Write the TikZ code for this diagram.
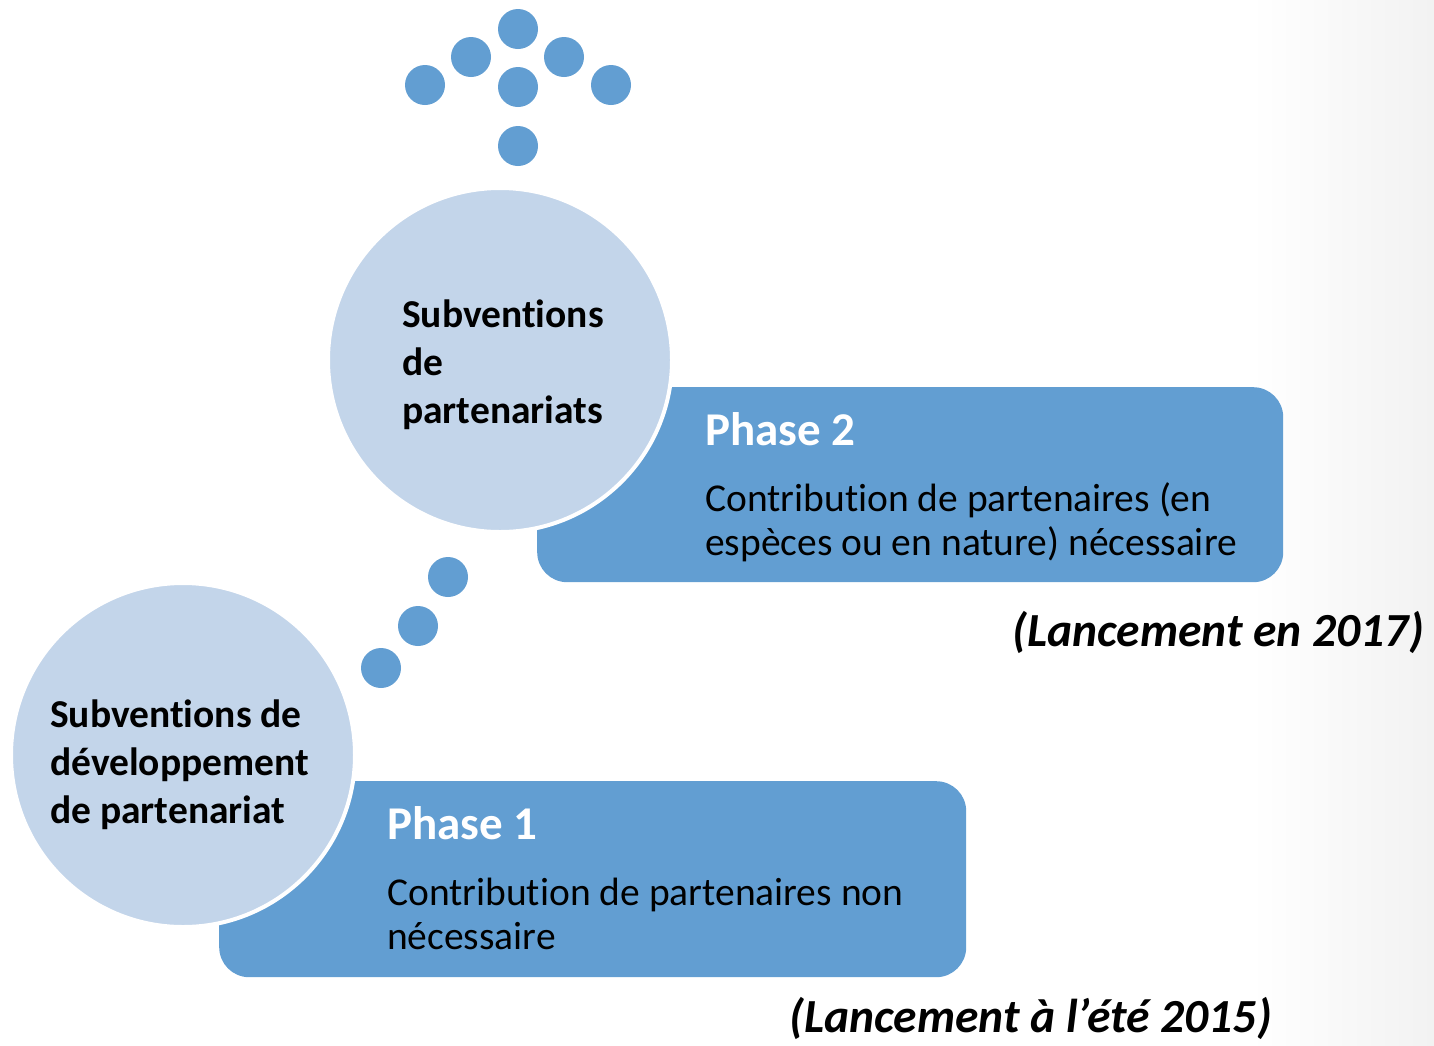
\documentclass[tikz,border=0pt]{standalone}
\usepackage{fontspec}
\setmainfont{Carlito}[Ligatures=CommonOff]
\definecolor{darkblue}{RGB}{98,158,210}
\definecolor{lightblue}{RGB}{195,213,234}
\definecolor{edgegray}{RGB}{242,242,242}
\begin{document}
\begin{tikzpicture}[x=1pt,y=-1pt,
  dot/.style={circle,fill=darkblue,minimum size=40pt,inner sep=0pt},
  phasebox/.style={rectangle,rounded corners=30pt,fill=darkblue,anchor=north west,inner sep=0pt},
  bigcircle/.style={circle,fill=lightblue,draw=white,line width=4pt,minimum size=344pt,inner sep=0pt},
  circtext/.style={anchor=base west,align=left,font=\fontsize{39.5}{48}\selectfont\bfseries,inner sep=0pt},
  phasetitle/.style={anchor=base west,font=\fontsize{47}{48}\selectfont\bfseries,text=white,inner sep=0pt},
  phasebody/.style={anchor=base west,align=left,font=\fontsize{39.5}{44}\selectfont,inner sep=0pt},
  launch/.style={anchor=base east,font=\fontsize{47.5}{48}\selectfont\bfseries\itshape,inner sep=0pt}]
\useasboundingbox (0,0) rectangle (1434,1045);
\shade[left color=white,right color=edgegray] (1250,0) rectangle (1434,1045);
% dots top
\node[dot] (d1) at (425,85) {};
\node[dot] (d2) at (471,57) {};
\node[dot] (d3) at (518,29) {};
\node[dot] (d4) at (564,57) {};
\node[dot] (d5) at (611,85) {};
\node[dot] (d6) at (518,87) {};
\node[dot] (d7) at (518,146) {};
% dots diagonal
\node[dot] (e1) at (448,577) {};
\node[dot] (e2) at (418,626) {};
\node[dot] (e3) at (381,668) {};
% phase 2
\node[phasebox,minimum width=746pt,minimum height=195pt] (p2) at (537,387) {};
\node[bigcircle] (c1) at (500,360) {};
\node[circtext] (t1) at (402,423) {Subventions\\de\\partenariats};
\node[phasetitle] (h2) at (705,445) {Phase 2};
\node[phasebody] (b2) at (705,555) {Contribution de partenaires (en\\esp\`eces ou en nature) n\'ecessaire};
\node[launch] (l2) at (1424,646) {(Lancement en 2017)};
% phase 1
\node[phasebox,minimum width=747pt,minimum height=196pt] (p1) at (219,781) {};
\node[bigcircle] (c2) at (183,755) {};
\node[circtext] (t2) at (50,823) {Subventions de\\d\'eveloppement\\de partenariat};
\node[phasetitle] (h1) at (387,839) {Phase 1};
\node[phasebody] (b1) at (387,949) {Contribution de partenaires non\\n\'ecessaire};
\node[launch] (l1) at (1272,1032) {(Lancement \`a l’\'et\'e 2015)};
\end{tikzpicture}
\end{document}
